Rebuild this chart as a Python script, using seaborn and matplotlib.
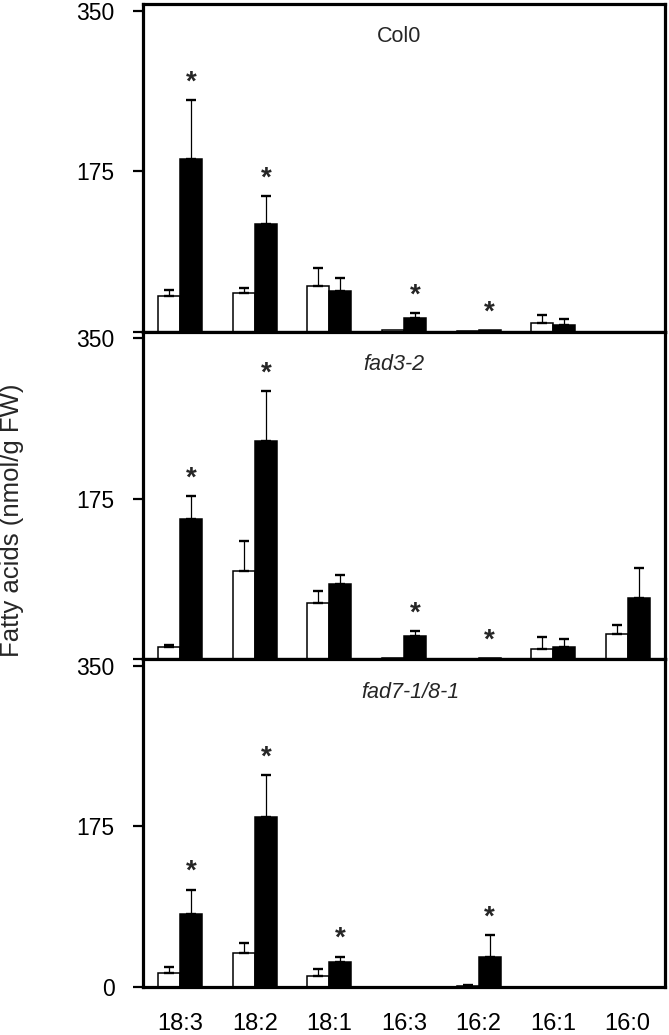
import matplotlib
matplotlib.use("Agg")
import matplotlib.pyplot as plt
import seaborn as sns
import pandas as pd

sns.set_theme(style="white")
plt.rcParams['font.family'] = ['Liberation Sans', 'DejaVu Sans']

categories = ['18:3', '18:2', '18:1', '16:3', '16:2', '16:1', '16:0']
panels = ['Col0', 'fad3-2', 'fad7-1/8-1']
treatments = ['control', 'treated']

col0_control = [39, 42, 50, 1.5, 0.8, 10, 0]
col0_control_err = [7, 6, 20, 0, 0, 8, 0]
col0_treated = [188, 117, 44, 15, 1.5, 7, 0]
col0_treated_err = [64, 31, 15, 5, 0, 7, 0]

fad3_control = [13, 96, 61, 1, 0.5, 11.5, 28]
fad3_control_err = [2.5, 33, 14, 0, 0, 13, 9.5]
fad3_treated = [153, 238, 82, 26, 1, 14, 67]
fad3_treated_err = [25, 54, 10, 5, 0, 8, 33]

fad7_control = [15, 36.5, 12, 0, 1.5, 0, 0]
fad7_control_err = [7, 11, 8, 0, 1, 0, 0]
fad7_treated = [80, 185, 27.5, 0, 32.5, 0, 0]
fad7_treated_err = [26, 46, 5.5, 0, 24, 0, 0]

# indices of treated bars marked with an asterisk
col0_stars = [0, 1, 3, 4]
fad3_stars = [0, 1, 3, 4]
fad7_stars = [0, 1, 2, 4]

panel_data = [
    (col0_control, col0_control_err, col0_treated, col0_treated_err, col0_stars),
    (fad3_control, fad3_control_err, fad3_treated, fad3_treated_err, fad3_stars),
    (fad7_control, fad7_control_err, fad7_treated, fad7_treated_err, fad7_stars),
]
title_x = [0.49, 0.48, 0.513]
title_style = ['normal', 'italic', 'italic']

fig, axes = plt.subplots(3, 1, figsize=(6.69, 10.35), dpi=100, sharex=True)
fig.subplots_adjust(left=0.2138, right=0.994, top=0.996, bottom=0.0464, hspace=0)

for i, ax in enumerate(axes):
    ctrl, ctrl_err, trt, trt_err, stars = panel_data[i]
    df = pd.DataFrame({
        'fa': categories * 2,
        'value': ctrl + trt,
        'err': ctrl_err + trt_err,
        'treatment': [treatments[0]] * len(categories) + [treatments[1]] * len(categories),
    })
    sns.barplot(data=df, x='fa', y='value', hue='treatment', order=categories,
                hue_order=treatments, palette=['white', 'black'], width=0.59,
                gap=0, errorbar=None, edgecolor='black', linewidth=1.1,
                saturation=1, legend=False, ax=ax)
    bars = sorted(ax.patches, key=lambda p: p.get_x())
    for j in range(len(categories)):
        pw, pb = bars[2 * j], bars[2 * j + 1]
        for p, e in ((pw, ctrl_err[j]), (pb, trt_err[j])):
            if e > 0:
                xc = p.get_x() + p.get_width() / 2
                h = p.get_height()
                ax.errorbar([xc], [h], yerr=[[0], [e]], fmt='none', ecolor='black',
                            elinewidth=0.9, capsize=3.6, capthick=1.7, zorder=3)
        if j in stars:
            xc = pb.get_x() + pb.get_width() / 2
            top = pb.get_height() + trt_err[j]
            ax.annotate('*', (xc, top), xytext=(0, 7.7), textcoords='offset points',
                        ha='center', va='baseline', fontsize=20, fontweight='bold')
    ax.set_ylim(0, 357)
    ax.set_xlim(-0.5, len(categories) - 0.5)
    ax.set_yticks([0, 175, 350])
    if i < 2:
        ax.set_yticklabels(['', '175', '350'])
    else:
        ax.set_yticklabels(['0', '175', '350'])
    ax.set_xlabel('')
    ax.set_ylabel('')
    ax.text(title_x[i], 0.90, panels[i], transform=ax.transAxes, ha='center',
            va='center', fontsize=15.5, style=title_style[i])
    for s in ax.spines.values():
        s.set_visible(True)
        s.set_color('black')
        s.set_linewidth(2.3)
    ax.tick_params(axis='y', left=True, length=7.5, width=1.6, color='black',
                   pad=13, labelsize=16.5, labelcolor='black')
    ax.tick_params(axis='x', bottom=False, length=0, pad=19, labelsize=17,
                   labelcolor='black')

axes[-1].set_xticks(range(len(categories)))
axes[-1].set_xticklabels(categories)

fig.text(0.018, 0.497, 'Fatty acids (nmol/g FW)', rotation=90, ha='center',
         va='center', fontsize=18.5)

fig.savefig('out.png', dpi=100)
